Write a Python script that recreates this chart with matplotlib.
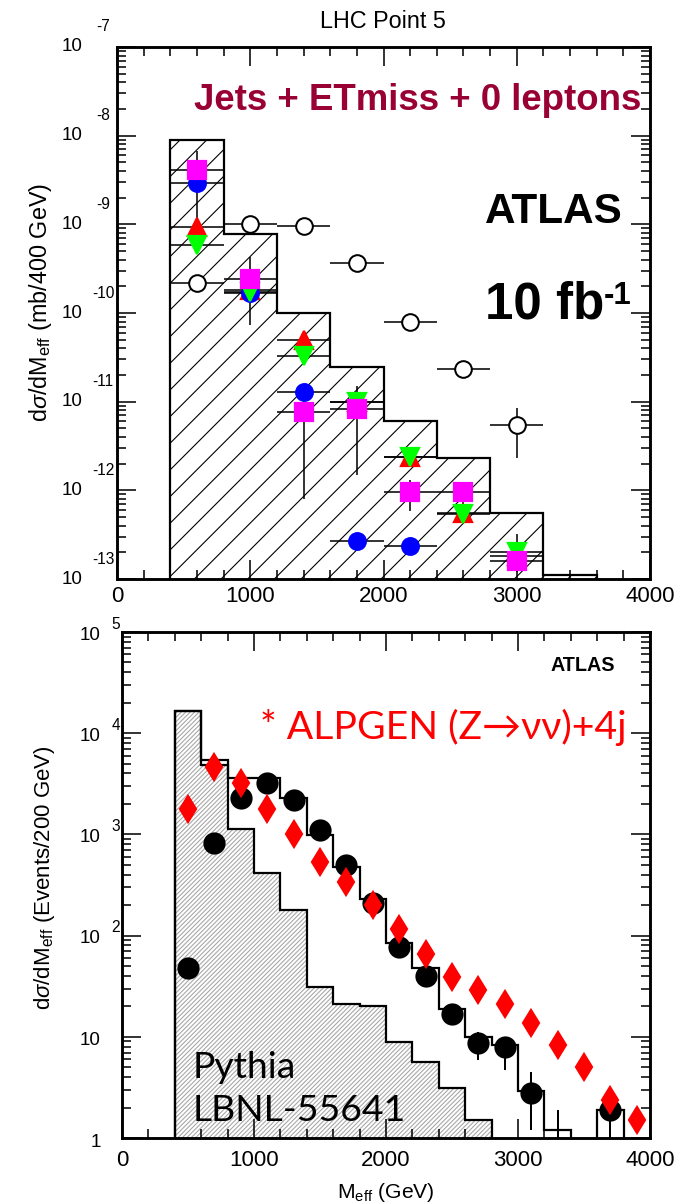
import numpy as np
import matplotlib
matplotlib.use('Agg')
import matplotlib.pyplot as plt
from matplotlib.ticker import LogLocator, MultipleLocator, NullFormatter

plt.rcParams['font.family'] = ['Liberation Sans', 'DejaVu Sans']
plt.rcParams['mathtext.fontset'] = 'custom'
plt.rcParams['mathtext.rm'] = 'Liberation Sans'
plt.rcParams['mathtext.it'] = 'Liberation Sans:italic'
plt.rcParams['mathtext.bf'] = 'Liberation Sans:bold'
plt.rcParams['hatch.linewidth'] = 0.5

# ---- top panel: LHC Point 5, 400 GeV bins (mb/400 GeV)
top_edges = [400, 800, 1200, 1600, 2000, 2400, 2800, 3200, 3600, 4000]
top_hist = [9.0e-9, 7.8e-10, 1.0e-10, 2.45e-11, 6.0e-12, 2.3e-12, 5.5e-13, 1.1e-13, 0]
top_x = [600, 1000, 1400, 1800, 2200, 2600, 3000]
open_circ = [2.2e-10, 1.0e-9, 9.5e-10, 3.7e-10, 7.9e-11, 2.35e-11, 5.5e-12]
open_lo = [2.2e-10, 1.0e-9, 9.5e-10, 3.7e-10, 7.9e-11, 2.35e-11, 2.3e-12]
open_hi = [2.2e-10, 1.0e-9, 9.5e-10, 3.7e-10, 7.9e-11, 2.35e-11, 8.5e-12]
red_up = [9.3e-10, 1.8e-10, 5.0e-11, 1.0e-11, 2.35e-12, 5.6e-13, 1.8e-13]
green_dn = [5.8e-10, 1.73e-10, 3.3e-11, 9.8e-12, 2.4e-12, 5.4e-13, 2.0e-13]
blue_circ = [2.9e-9, 1.7e-10, 1.27e-11, 2.7e-13, 2.35e-13, np.nan, np.nan]
magenta = [4.1e-9, 2.4e-10, 7.6e-12, 8.2e-12, 9.5e-13, 9.5e-13, 1.6e-13]
magenta_lo = [1.1e-9, 7.4e-11, 7.9e-13, 1.5e-12, 5.8e-13, 6.7e-13, 1.2e-13]
magenta_hi = [6.8e-9, 4.3e-10, 1.26e-11, 1.5e-11, 1.3e-12, 1.2e-12, 3.2e-13]

# ---- bottom panel: 200 GeV bins (Events/200 GeV)
bot_edges = list(range(400, 4001, 200))
bot_x = list(range(500, 4000, 200))
pythia_hist = [16500, 4900, 1120, 420, 180, 31, 21, 20, 8.9, 5.6, 3.1, 1.5, 0, 0, 0, 0, 0, 0]
total_hist = [16500, 5400, 3600, 3600, 2300, 980, 480, 230, 85, 48, 19, 10, 8.3, 2.95, 1.2, 0, 1.9, 0]
black_pts = [48, 820, 2300, 3200, 2200, 1100, 500, 210, 78, 40, 17, 8.7, 8.0, 2.8, 0.8, np.nan, 1.9, np.nan]
black_lo = [45, 780, 2200, 3050, 2100, 1040, 470, 195, 70, 35, 14, 5.9, 4.7, 1.2, 0.5, np.nan, 1.0, np.nan]
black_hi = [51, 860, 2400, 3350, 2300, 1160, 530, 225, 86, 45, 20, 11.2, 10.0, 4.5, 1.9, np.nan, 3.2, np.nan]
alpgen = [1800, 4600, 3200, 1800, 1000, 530, 340, 200, 117, 66, 39, 29, 21, 13.7, 8.3, 5.0, 2.4, 1.5]

fig = plt.figure(figsize=(684 / 160, 1202 / 160), dpi=160)
ax1 = fig.add_axes([0.1711, 0.5183, 0.7792, 0.4426])
ax2 = fig.add_axes([0.1784, 0.0532, 0.7719, 0.4210])


def style(ax, ylo, yhi):
    ax.set_xlim(0, 4000)
    ax.set_yscale('log')
    ax.set_ylim(ylo, yhi)
    ax.xaxis.set_major_locator(MultipleLocator(1000))
    ax.xaxis.set_minor_locator(MultipleLocator(200))
    ax.yaxis.set_major_locator(LogLocator(10, numticks=20))
    ax.yaxis.set_minor_locator(LogLocator(10, subs=np.arange(2, 10), numticks=20))
    ax.yaxis.set_major_formatter(NullFormatter())
    ax.yaxis.set_minor_formatter(NullFormatter())
    ax.tick_params(which='both', direction='in', top=True, right=True, width=0.7)
    ax.tick_params(which='major', length=8.5)
    ax.tick_params(which='minor', length=4)
    for s in ax.spines.values():
        s.set_linewidth(1.3)


# ================= top =================
style(ax1, 1e-13, 1e-7)
th = np.where(np.array(top_hist) > 0, top_hist, 1e-14)
ax1.stairs(th, top_edges, baseline=1e-14, fill=True, facecolor='white',
           edgecolor='black', hatch='//', linewidth=1.0, zorder=1)

ekw = dict(xerr=200, ecolor='black', elinewidth=0.7, capsize=0, linestyle='none', zorder=3)
ox = np.array(open_circ)
ax1.errorbar(top_x, ox, yerr=[ox - np.array(open_lo), np.array(open_hi) - ox], marker='o',
             ms=7.5, mfc='white', mec='black', mew=0.9, **ekw)
ax1.errorbar(top_x, red_up, marker='^', ms=8.5, mfc='#ff0000', mec='#ff0000', **ekw)
ax1.errorbar(top_x, blue_circ, marker='o', ms=7.5, mfc='#0000ff', mec='#0000ff', **ekw)
ax1.errorbar(top_x, green_dn, marker='v', ms=8.5, mfc='#00ff00', mec='#00ff00', **ekw)
mg = np.array(magenta)
ax1.errorbar(top_x, mg, yerr=[mg - np.array(magenta_lo), np.array(magenta_hi) - mg], marker='s',
             ms=8, mfc='#ff00ff', mec='#ff00ff', **ekw)

ax1.tick_params(axis='x', labelsize=10, pad=3)
for k in range(-13, -6):
    ax1.annotate('10', xy=(0, 10.0 ** k), xycoords=('axes fraction', 'data'), xytext=(-20.3, 0),
                 textcoords='offset points', ha='center', va='center', fontsize=8.5)
    ax1.annotate(str(k), xy=(0, 10.0 ** k), xycoords=('axes fraction', 'data'), xytext=(-6.3, 9),
                 textcoords='offset points', ha='center', va='center', fontsize=7)

ax1.set_ylabel(r'd$\sigma$/dM$_{\rm eff}$ (mb/400 GeV)', fontsize=10.5)
ax1.yaxis.set_label_coords(-0.118, 0.519)
fig.text(383 / 684, 1 - 22 / 1202, 'LHC Point 5', ha='center', va='center', fontsize=10.5)
ax1.text(0.564, 0.900, 'Jets + ETmiss + 0 leptons', transform=ax1.transAxes, ha='center',
         va='center', fontsize=16.5, fontweight='bold', color='#990033')
ax1.text(0.820, 0.690, 'ATLAS', transform=ax1.transAxes, ha='center', va='center',
         fontsize=19, fontweight='bold')
t10 = ax1.text(0.690, 0.515, '10 fb', transform=ax1.transAxes, ha='left', va='center',
               fontsize=23, fontweight='bold')
ax1.annotate('-1', xy=(1.0, 1.0), xycoords=t10, ha='left', va='top', fontsize=14,
             fontweight='bold')

# ================= bottom =================
style(ax2, 1, 1e5)
ph = np.where(np.array(pythia_hist) > 0, pythia_hist, 0.5)
tt = np.where(np.array(total_hist) > 0, total_hist, 0.5)
ax2.stairs(ph, bot_edges, baseline=0.5, fill=True, facecolor='white', edgecolor='#a8a8a8',
           hatch='////////////', linewidth=0, zorder=1)
ax2.stairs(ph, bot_edges, baseline=0.5, color='black', linewidth=1.0, zorder=2)
ax2.stairs(tt, bot_edges, baseline=0.5, color='black', linewidth=1.0, zorder=2)

bp = np.array(black_pts)
ax2.errorbar(bot_x, bp, yerr=[bp - np.array(black_lo), np.array(black_hi) - bp], xerr=50,
             marker='o', ms=9, mfc='black', mec='black', ecolor='black', elinewidth=0.9,
             capsize=0, linestyle='none', zorder=3)
ax2.plot(bot_x, alpgen, marker='d', ms=8.5, mfc='#ff0000', mec='#ff0000', linestyle='none', zorder=4)

ax2.tick_params(axis='x', labelsize=10, pad=5.5)
for k in range(0, 6):
    if k == 0:
        ax2.annotate('1', xy=(0, 1.0), xycoords=('axes fraction', 'data'), xytext=(-12, -2),
                     textcoords='offset points', ha='center', va='center', fontsize=8.5)
        continue
    ax2.annotate('10', xy=(0, 10.0 ** k), xycoords=('axes fraction', 'data'), xytext=(-14.4, -1.5),
                 textcoords='offset points', ha='center', va='center', fontsize=8.5)
    if k > 1:
        ax2.annotate(str(k), xy=(0, 10.0 ** k), xycoords=('axes fraction', 'data'),
                     xytext=(-2.7, 3.5), textcoords='offset points', ha='center', va='center',
                     fontsize=7)

ax2.set_ylabel(r'd$\sigma$/dM$_{\rm eff}$ (Events/200 GeV)', fontsize=10)
ax2.yaxis.set_label_coords(-0.124, 0.514)
ax2.set_xlabel(r'M$_{\rm eff}$ (GeV)', fontsize=9.5)
ax2.xaxis.set_label_coords(0.5, -0.084)

ax2.text(0.873, 0.933, 'ATLAS', transform=ax2.transAxes, ha='center', va='center',
         fontsize=8.9, fontweight='bold')
ax2.text(0.261, 0.812, '* ALPGEN (Z\u2192\u03bd\u03bd)+4j', transform=ax2.transAxes, ha='left',
         va='center', fontsize=17.6, color='#ff0000', family=['Lato', 'DejaVu Sans'])
ax2.text(0.133, 0.140, 'Pythia', transform=ax2.transAxes, ha='left', va='center',
         fontsize=16.8, family=['Lato', 'DejaVu Sans'])
ax2.text(0.133, 0.055, 'LBNL-55641', transform=ax2.transAxes, ha='left', va='center',
         fontsize=16.8, family=['Lato', 'DejaVu Sans'])

fig.savefig('out.png', dpi=160)
